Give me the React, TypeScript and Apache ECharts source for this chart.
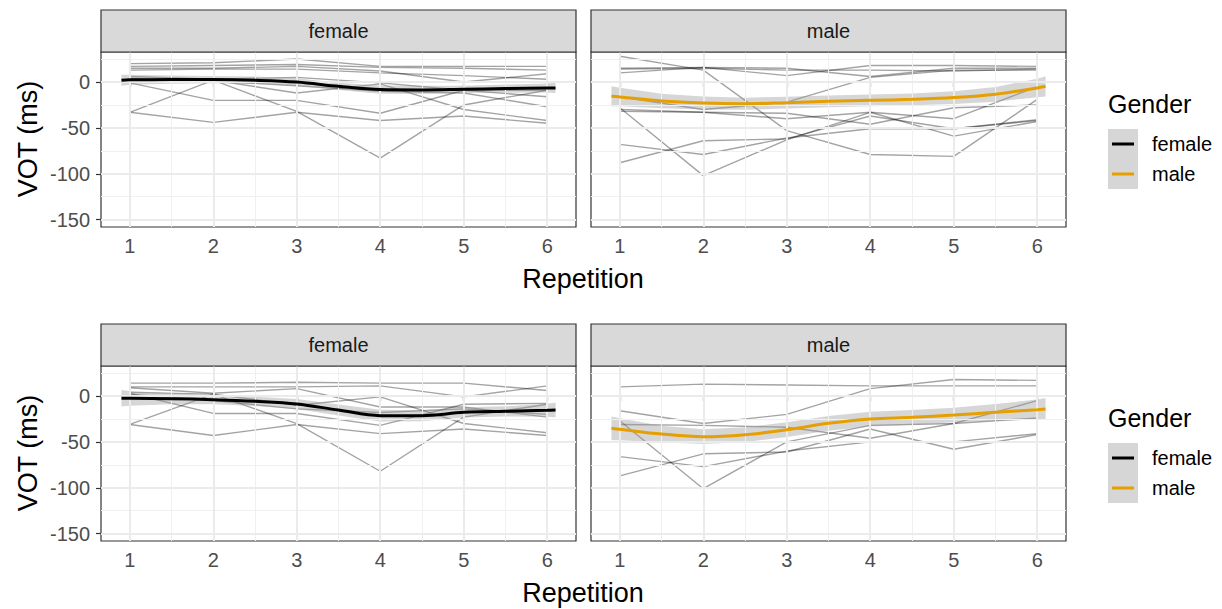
import React, { useEffect, useRef } from "react";
import * as echarts from "echarts";

const FONT = "'Liberation Sans', Arial, Helvetica, sans-serif";

// ---------- data ----------
const reps = [1, 2, 3, 4, 5, 6];
const yTicks = [-150, -100, -50, 0];
const xMinor = [1.5, 2.5, 3.5, 4.5, 5.5];
const yMinor = [25, -25, -75, -125];
const panelLabels = ["female", "male", "female", "male"];
const legendLabels = ["female", "male"];

// individual speakers (VOT per repetition)
const femaleTop: number[][] = [
  [20, 21, 25, 17, 17, 17],
  [17, 18, 19, 16, 15, 13],
  [15, 15, 17, 12, 0, 9],
  [13, 14, 14, 10, 7, 3],
  [6, 3, 5, -1, -9, -16],
  [-1, -20, -20, -34, -9, -9],
  [4, 2, -32, -83, -25, -9],
  [-33, -44, -33, -42, -37, -45],
  [-33, 2, -12, -2, -30, -42],
  [3, 1, -4, -10, -12, -27],
];
const maleTop: number[][] = [
  [28, 13, -53, -79, -81, -19],
  [15, 16, 15, 6, 15, 15],
  [10, 16, 7, 18, 18, 17],
  [14, 15, 13, 13, 12, 14],
  [-16, -30, -22, 5, 13, 13],
  [-28, -102, -63, -33, -59, -43],
  [-88, -64, -62, -37, -51, -41],
  [-68, -79, -61, -51, -51, -42],
  [-32, -33, -34, -46, -28, -25],
  [-30, -33, -40, -33, -40, -5],
];
const femaleBottom: number[][] = [
  [14, 14, 15, 14, 14, 6],
  [10, 10, 10, 11, -1, 11],
  [9, 3, 8, -12, -12, -23],
  [3, -19, -19, -32, -9, -8],
  [-31, -43, -31, -41, -36, -43],
  [-31, 2, -10, -1, -30, -40],
  [4, 2, -30, -82, -23, -9],
  [2, -5, -14, -18, -14, -20],
];
const maleBottom: number[][] = [
  [10, 13, 12, 11, 11, 11],
  [-16, -30, -20, 8, 18, 17],
  [-27, -101, -50, -32, -30, -5],
  [-66, -77, -60, -50, -50, -41],
  [-87, -63, -61, -36, -58, -42],
  [-31, -32, -34, -46, -30, -24],
];

// smoothed trend + confidence half-width
const smoothX = [0.9, 1, 1.5, 2, 2.5, 3, 3.5, 4, 4.5, 5, 5.5, 6, 6.1];
const fitFemaleTop = [2, 2.5, 2.6, 2.6, 1.9, 0, -4.7, -8.3, -8.7, -8, -7.2, -6.5, -6.4];
const seFemaleTop = [6, 5.5, 4.5, 4, 4, 4, 4, 4.5, 4.5, 4, 4.5, 5, 5.5];
const fitMaleTop = [-15.6, -16.3, -20.7, -22.9, -23.6, -22.5, -21.1, -20, -18.9, -17, -13.4, -6.5, -4.7];
const seMaleTop = [11, 10, 8, 7, 6.5, 6.5, 6.5, 6.5, 6.5, 7, 8, 10, 11];
const fitFemaleBottom = [-2.5, -2.5, -2.9, -4, -5.8, -8.7, -15.3, -21.4, -21.4, -17.8, -16.7, -15.5, -15.2];
const seFemaleBottom = [9, 8, 6, 5, 5, 5.5, 6, 6.5, 6, 5.5, 5.5, 7, 8];
const fitMaleBottom = [-35.2, -36.3, -41.4, -44.3, -42.1, -36.7, -29.8, -25.1, -23.2, -20.7, -17.8, -14.9, -14.2];
const seMaleBottom = [13, 12, 9, 8, 8, 8, 8, 8, 8, 8, 9, 11, 12];

// ---------- layout ----------
const panels = [
  { left: 101, top: 52, speakers: femaleTop, fit: fitFemaleTop, se: seFemaleTop, color: "#000000" },
  { left: 591, top: 52, speakers: maleTop, fit: fitMaleTop, se: seMaleTop, color: "#E69F00" },
  { left: 101, top: 366, speakers: femaleBottom, fit: fitFemaleBottom, se: seFemaleBottom, color: "#000000" },
  { left: 591, top: 366, speakers: maleBottom, fit: fitMaleBottom, se: seMaleBottom, color: "#E69F00" },
];
const PW = 475;
const PH = 175;
const legendColors = ["#000000", "#E69F00"];

function buildOption() {
  const grid: any[] = [];
  const xAxis: any[] = [];
  const yAxis: any[] = [];
  const series: any[] = [];
  const graphic: any[] = [];

  panels.forEach((p, i) => {
    const isLeft = i % 2 === 0;
    grid.push({
      left: p.left,
      top: p.top,
      width: PW,
      height: PH,
      show: true,
      backgroundColor: "#FFFFFF",
      borderColor: "#333333",
      borderWidth: 1.2,
    });
    xAxis.push({
      type: "value",
      gridIndex: i,
      min: 0.655,
      max: 6.345,
      axisLine: { show: false },
      splitLine: { show: false },
      axisTick: { show: true, customValues: reps, length: 5, lineStyle: { color: "#333333", width: 1.2 } },
      axisLabel: { show: true, customValues: reps, color: "#4D4D4D", fontSize: 20, fontFamily: FONT, margin: 9 },
    });
    yAxis.push({
      type: "value",
      gridIndex: i,
      min: -158,
      max: 32.7,
      axisLine: { show: false },
      splitLine: { show: false },
      axisTick: { show: isLeft, customValues: yTicks, length: 5, lineStyle: { color: "#333333", width: 1.2 } },
      axisLabel: { show: isLeft, customValues: yTicks, color: "#4D4D4D", fontSize: 20, fontFamily: FONT, margin: 11 },
    });

    const major = { color: "#EBEBEB", width: 2, type: "solid" };
    const minor = { color: "#F0F0F0", width: 1, type: "solid" };
    series.push({
      type: "line",
      xAxisIndex: i,
      yAxisIndex: i,
      data: [[1, 0]],
      showSymbol: false,
      lineStyle: { opacity: 0 },
      z: 1,
      silent: true,
      markLine: {
        silent: true,
        symbol: ["none", "none"],
        label: { show: false },
        animation: false,
        data: [
          ...xMinor.map((v) => ({ xAxis: v, lineStyle: minor })),
          ...yMinor.map((v) => ({ yAxis: v, lineStyle: minor })),
          ...reps.map((v) => ({ xAxis: v, lineStyle: major })),
          ...yTicks.map((v) => ({ yAxis: v, lineStyle: major })),
        ],
      },
    });

    p.speakers.forEach((vals) => {
      series.push({
        type: "line",
        xAxisIndex: i,
        yAxisIndex: i,
        data: reps.map((x, k) => [x, vals[k]]),
        showSymbol: false,
        silent: true,
        lineStyle: { color: "rgba(0,0,0,0.36)", width: 1.4 },
        z: 3,
      });
    });

    // confidence band
    const lo = smoothX.map((_, k) => p.fit[k] - p.se[k]);
    const hi = smoothX.map((_, k) => p.fit[k] + p.se[k]);
    series.push({
      type: "custom",
      xAxisIndex: i,
      yAxisIndex: i,
      silent: true,
      z: 4,
      data: smoothX.map((x, k) => [x, lo[k], hi[k]]),
      encode: { x: 0, y: [1, 2] },
      renderItem: (params: any, api: any) => {
        if (params.dataIndex !== 0) return null;
        const upper: number[][] = [];
        const lower: number[][] = [];
        for (let k = 0; k < smoothX.length; k++) {
          upper.push(api.coord([smoothX[k], hi[k]]));
          lower.push(api.coord([smoothX[k], lo[k]]));
        }
        return {
          type: "polygon",
          shape: { points: upper.concat(lower.reverse()) },
          style: { fill: "rgba(153,153,153,0.4)", stroke: "none" },
        };
      },
    });
    series.push({
      type: "line",
      xAxisIndex: i,
      yAxisIndex: i,
      data: smoothX.map((x, k) => [x, p.fit[k]]),
      showSymbol: false,
      smooth: 0.35,
      silent: true,
      lineStyle: { color: p.color, width: 3 },
      z: 5,
    });

    // strip
    graphic.push({
      type: "rect",
      shape: { x: p.left, y: p.top - 42, width: PW, height: 42 },
      style: { fill: "#D9D9D9", stroke: "#333333", lineWidth: 1.2 },
      z: 10,
    });
    graphic.push({
      type: "text",
      x: p.left + PW / 2,
      y: p.top - 21,
      style: {
        text: panelLabels[i],
        font: `20px ${FONT}`,
        fill: "#1A1A1A",
        textAlign: "center",
        textVerticalAlign: "middle",
      },
      z: 11,
    });
  });

  // axis titles + legends per row
  [0, 314].forEach((dy) => {
    graphic.push({
      type: "text",
      x: 28,
      y: 139 + dy,
      rotation: Math.PI / 2,
      style: {
        text: "VOT (ms)",
        font: `27px ${FONT}`,
        fill: "#000000",
        textAlign: "center",
        textVerticalAlign: "middle",
      },
    });
    graphic.push({
      type: "text",
      x: 583,
      y: 279 + dy,
      style: {
        text: "Repetition",
        font: `27px ${FONT}`,
        fill: "#000000",
        textAlign: "center",
        textVerticalAlign: "middle",
      },
    });
    graphic.push({
      type: "text",
      x: 1108,
      y: 104 + dy,
      style: {
        text: "Gender",
        font: `25px ${FONT}`,
        fill: "#000000",
        textAlign: "left",
        textVerticalAlign: "middle",
      },
    });
    legendLabels.forEach((lab, k) => {
      const ky = 129 + dy + k * 30;
      graphic.push({
        type: "rect",
        shape: { x: 1108, y: ky, width: 30, height: 30 },
        style: { fill: "#D6D6D6" },
      });
      graphic.push({
        type: "line",
        shape: { x1: 1112, y1: ky + 15, x2: 1134, y2: ky + 15 },
        style: { stroke: legendColors[k], lineWidth: 3 },
      });
      graphic.push({
        type: "text",
        x: 1152,
        y: ky + 15,
        style: {
          text: lab,
          font: `20px ${FONT}`,
          fill: "#000000",
          textAlign: "left",
          textVerticalAlign: "middle",
        },
      });
    });
  });

  return {
    animation: false,
    backgroundColor: "#FFFFFF",
    textStyle: { fontFamily: FONT },
    grid,
    xAxis,
    yAxis,
    series,
    graphic,
  };
}

export default function App() {
  const ref = useRef<HTMLDivElement>(null);
  useEffect(() => {
    document.body.style.margin = "0";
    const chart = echarts.init(ref.current!, undefined, { renderer: "svg" });
    chart.setOption(buildOption() as any);
    return () => chart.dispose();
  }, []);
  return (
    <div
      ref={ref}
      style={{ position: "absolute", left: 0, top: 0, width: 1222, height: 609 }}
    />
  );
}
